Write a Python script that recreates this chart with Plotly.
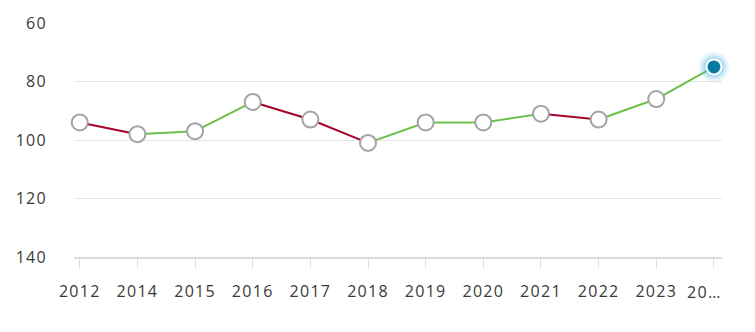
import plotly.graph_objects as go

years = ["2012", "2014", "2015", "2016", "2017", "2018", "2019", "2020", "2021", "2022", "2023", "2024"]
tick_labels = ["2012", "2014", "2015", "2016", "2017", "2018", "2019", "2020", "2021", "2022", "2023", "20…"]
ranks = [94, 98, 97, 87, 93, 101, 94, 94, 91, 93, 86, 75]

RED = "#a3052b"
GREEN = "#6cc04a"
HILITE = "#0a7aa0"

fig = go.Figure()

for i in range(len(ranks) - 1):
    color = RED if ranks[i + 1] > ranks[i] else GREEN
    fig.add_trace(go.Scatter(
        x=[i, i + 1], y=[ranks[i], ranks[i + 1]], mode="lines",
        line=dict(color=color, width=2), hoverinfo="skip", showlegend=False,
        cliponaxis=False))

idx = list(range(len(years)))
fig.add_trace(go.Scatter(
    x=idx[:-1], y=ranks[:-1], mode="markers", cliponaxis=False,
    marker=dict(size=16, color="white", line=dict(color="#a3a3a3", width=2)),
    showlegend=False, text=years[:-1]))

for s, op in [(32, 0.06), (28, 0.10), (24, 0.16), (20, 0.25)]:
    fig.add_trace(go.Scatter(
        x=[idx[-1]], y=[ranks[-1]], mode="markers", cliponaxis=False,
        marker=dict(size=s, color="rgba(70,175,230,%s)" % op, line=dict(width=0)),
        hoverinfo="skip", showlegend=False))
fig.add_trace(go.Scatter(
    x=[idx[-1]], y=[ranks[-1]], mode="markers", cliponaxis=False,
    marker=dict(size=15, color=HILITE, line=dict(color="white", width=2)),
    showlegend=False, text=[years[-1]]))

ticktext = tick_labels[:-1] + [""]
fig.add_annotation(
    text=tick_labels[-1], xref="paper", yref="paper", x=1.0, y=-0.148,
    xanchor="right", yanchor="middle", showarrow=False,
    font=dict(family="Open Sans", size=16, color="#3a3a3a"))

fig.update_layout(
    width=755, height=332,
    margin=dict(l=74, r=33, t=21, b=75),
    paper_bgcolor="white", plot_bgcolor="white",
    font=dict(family="Open Sans", size=16, color="#3a3a3a"),
    xaxis=dict(
        range=[-0.1, 11.14], tickmode="array", tickvals=idx, ticktext=ticktext,
        showgrid=False, zeroline=False, showline=True, linecolor="#dcdcdc", linewidth=2,
        ticks="outside", ticklen=9, tickcolor="#dcdcdc", tickwidth=1,
        tickfont=dict(size=16), ticklabelstandoff=10),
    yaxis=dict(
        range=[140, 60], tickvals=[60, 80, 100, 120, 140],
        showgrid=True, gridcolor="#e6e6e6", gridwidth=1, zeroline=False,
        showline=False, ticks="", tickfont=dict(size=16), ticklabelstandoff=26),
)

post = ("document.querySelectorAll('.xtick text, .ytick text, .annotation-text')"
        ".forEach(function(t){t.style.letterSpacing='1.3px';});")
fig.write_html("out.html", post_script=post)
